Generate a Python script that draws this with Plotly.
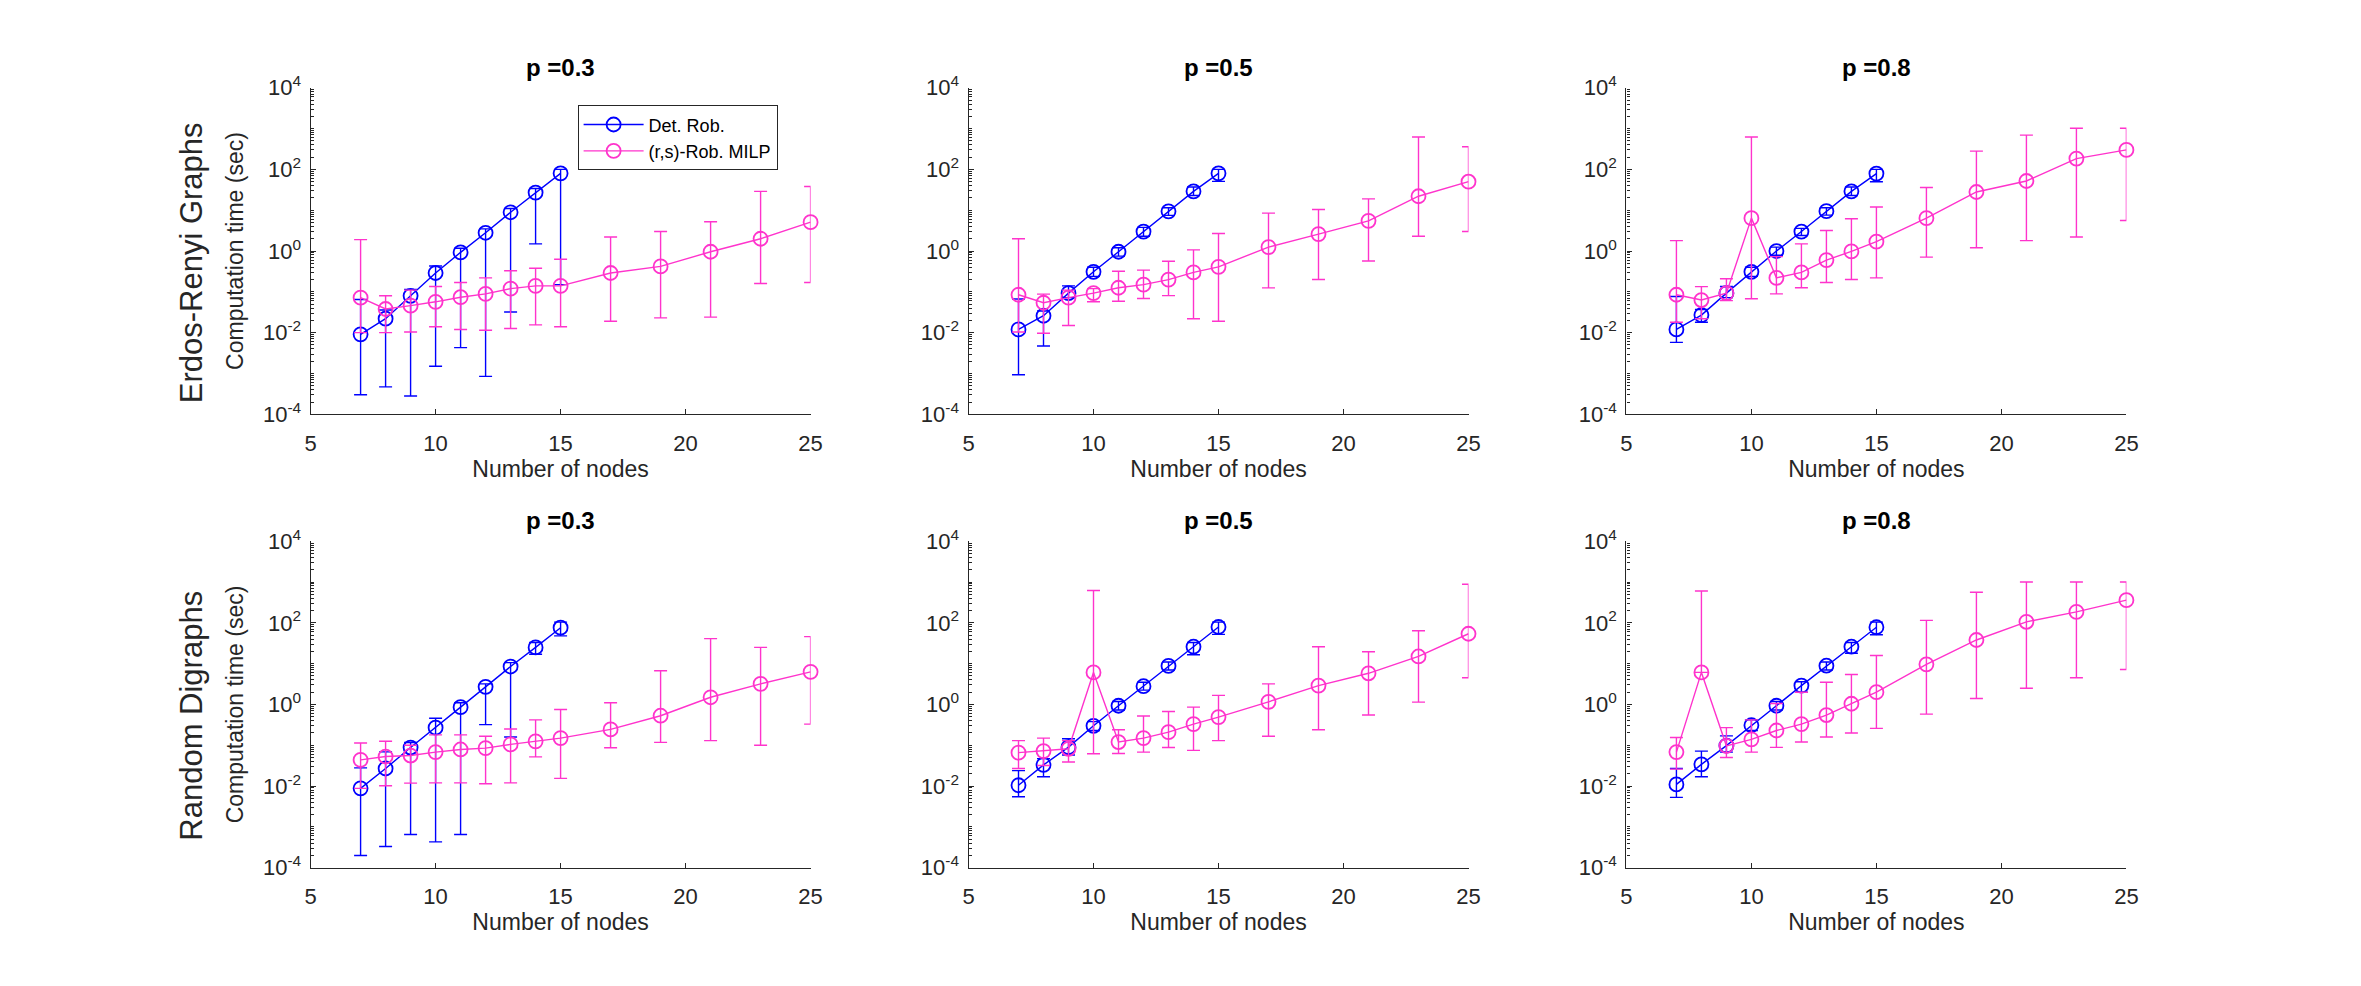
import plotly.graph_objects as go

# ---------------- data ----------------
nodes_det = [7, 8, 9, 10, 11, 12, 13, 14, 15]
nodes_milp = [7, 8, 9, 10, 11, 12, 13, 14, 15, 17, 19, 21, 23, 25]

series_names = ["Det. Rob.", "(r,s)-Rob. MILP"]
panel_titles = ["p =0.3", "p =0.5", "p =0.8", "p =0.3", "p =0.5", "p =0.8"]
row_labels = ["Erdos-Renyi Graphs", "Random Digraphs"]
x_ticks = [5, 10, 15, 20, 25]
y_tickvals = [1e-4, 1e-2, 1e0, 1e2, 1e4]
y_ticktext = ["10<sup>-4</sup>", "10<sup>-2</sup>", "10<sup>0</sup>", "10<sup>2</sup>", "10<sup>4</sup>"]

# Erdos-Renyi, p = 0.3
er03_det_mean = [0.0091, 0.022, 0.080, 0.29, 0.93, 2.8, 8.9, 27, 80]
er03_det_lo = [0.0003, 0.00047, 0.00028, 0.0015, 0.0043, 0.00085, 0.032, 1.5, 0.15]
er03_det_hi = [0.065, 0.036, 0.115, 0.43, 1.17, 3.5, 11, 34, 100]
er03_milp_mean = [0.072, 0.038, 0.046, 0.057, 0.074, 0.089, 0.12, 0.14, 0.14, 0.29, 0.42, 0.96, 2.0, 5.1]
er03_milp_lo = [0.01, 0.01, 0.0104, 0.014, 0.012, 0.0115, 0.0127, 0.0155, 0.014, 0.019, 0.023, 0.024, 0.16, 0.17]
er03_milp_hi = [1.9, 0.08, 0.11, 0.135, 0.17, 0.22, 0.33, 0.38, 0.63, 2.2, 3.0, 5.2, 29, 38]

# Erdos-Renyi, p = 0.5
er05_det_mean = [0.012, 0.026, 0.093, 0.31, 0.96, 3.0, 9.4, 29, 80]
er05_det_lo = [0.00093, 0.0047, 0.072, 0.24, 0.75, 2.3, 7.5, 23, 51]
er05_det_hi = [0.067, 0.034, 0.14, 0.40, 1.2, 3.8, 11.5, 37, 100]
er05_milp_mean = [0.085, 0.054, 0.072, 0.093, 0.126, 0.15, 0.20, 0.30, 0.41, 1.25, 2.6, 5.5, 22, 50]
er05_milp_lo = [0.0104, 0.0097, 0.015, 0.057, 0.059, 0.069, 0.081, 0.022, 0.019, 0.125, 0.2, 0.57, 2.3, 3.0]
er05_milp_hi = [2.0, 0.088, 0.11, 0.12, 0.32, 0.34, 0.56, 1.07, 2.7, 8.5, 10.4, 19, 620, 360]

# Erdos-Renyi, p = 0.8
er08_det_mean = [0.012, 0.027, 0.093, 0.31, 1.0, 3.0, 9.5, 29, 79]
er08_det_lo = [0.0058, 0.018, 0.072, 0.24, 0.79, 2.4, 7.6, 23, 50]
er08_det_hi = [0.077, 0.037, 0.135, 0.40, 1.25, 3.6, 11.5, 37, 100]
er08_milp_mean = [0.085, 0.063, 0.093, 6.4, 0.22, 0.30, 0.60, 0.98, 1.7, 6.4, 28, 52, 184, 300]
er08_milp_lo = [0.018, 0.022, 0.061, 0.068, 0.089, 0.126, 0.17, 0.20, 0.22, 0.71, 1.2, 1.8, 2.2, 5.6]
er08_milp_hi = [1.8, 0.134, 0.21, 620, 0.73, 1.5, 3.2, 6.2, 12, 36, 280, 690, 1020, 1020]

# Random digraphs, p = 0.3
rd03_det_mean = [0.0088, 0.027, 0.088, 0.27, 0.86, 2.7, 8.5, 25, 76]
rd03_det_lo = [0.0002, 0.00033, 0.00065, 0.00043, 0.00065, 0.32, 0.16, 17, 48]
rd03_det_hi = [0.028, 0.069, 0.117, 0.46, 1.1, 3.2, 10.6, 33, 104]
rd03_milp_mean = [0.044, 0.053, 0.056, 0.068, 0.079, 0.085, 0.105, 0.125, 0.15, 0.245, 0.53, 1.5, 3.2, 6.3]
rd03_milp_lo = [0.0088, 0.0102, 0.0118, 0.012, 0.012, 0.0114, 0.012, 0.052, 0.0155, 0.087, 0.118, 0.13, 0.1, 0.33]
rd03_milp_hi = [0.114, 0.125, 0.1, 0.18, 0.18, 0.166, 0.25, 0.42, 0.75, 1.1, 6.7, 41, 25, 46]

# Random digraphs, p = 0.5
rd05_det_mean = [0.0105, 0.033, 0.09, 0.30, 0.93, 2.8, 8.8, 26, 79]
rd05_det_lo = [0.0055, 0.017, 0.058, 0.23, 0.73, 2.25, 7.0, 16.5, 52]
rd05_det_hi = [0.024, 0.047, 0.145, 0.38, 1.18, 3.5, 11, 33, 104]
rd05_milp_mean = [0.066, 0.072, 0.082, 6.1, 0.12, 0.15, 0.21, 0.33, 0.49, 1.16, 2.9, 5.8, 15, 54]
rd05_milp_lo = [0.027, 0.032, 0.039, 0.062, 0.063, 0.068, 0.088, 0.075, 0.13, 0.167, 0.24, 0.55, 1.14, 4.5]
rd05_milp_hi = [0.13, 0.15, 0.13, 620, 0.24, 0.52, 0.67, 0.86, 1.67, 3.2, 26, 19.6, 64, 880]

# Random digraphs, p = 0.8
rd08_det_mean = [0.011, 0.034, 0.098, 0.31, 0.93, 2.9, 8.9, 26, 78]
rd08_det_lo = [0.0053, 0.017, 0.068, 0.23, 0.73, 2.0, 7.0, 18, 51]
rd08_det_hi = [0.027, 0.072, 0.17, 0.42, 1.18, 3.6, 11, 33, 104]
rd08_milp_mean = [0.068, 6.1, 0.097, 0.14, 0.23, 0.33, 0.55, 1.04, 2.0, 9.6, 38, 106, 185, 360]
rd08_milp_lo = [0.026, 6.1, 0.05, 0.068, 0.089, 0.12, 0.16, 0.2, 0.26, 0.58, 1.4, 2.5, 4.5, 7.2]
rd08_milp_hi = [0.155, 600, 0.27, 0.42, 1.06, 2.0, 3.5, 5.4, 15.8, 115, 560, 1000, 1000, 1000]

panels = [
    (er03_det_mean, er03_det_lo, er03_det_hi, er03_milp_mean, er03_milp_lo, er03_milp_hi),
    (er05_det_mean, er05_det_lo, er05_det_hi, er05_milp_mean, er05_milp_lo, er05_milp_hi),
    (er08_det_mean, er08_det_lo, er08_det_hi, er08_milp_mean, er08_milp_lo, er08_milp_hi),
    (rd03_det_mean, rd03_det_lo, rd03_det_hi, rd03_milp_mean, rd03_milp_lo, rd03_milp_hi),
    (rd05_det_mean, rd05_det_lo, rd05_det_hi, rd05_milp_mean, rd05_milp_lo, rd05_milp_hi),
    (rd08_det_mean, rd08_det_lo, rd08_det_hi, rd08_milp_mean, rd08_milp_lo, rd08_milp_hi),
]

# ---------------- style ----------------
W, H = 2361, 986
BLUE = "#0000ff"
PINK = "#ff33cc"
AXC = "#262626"
FONT = "Liberation Sans, Arial, Helvetica, sans-serif"
col_domains = [(0.13, 0.3434), (0.4108, 0.6242), (0.6916, 0.905)]
row_domains = [(0.5838, 0.925), (0.11, 0.4512)]

fig = go.Figure()


def add_series(x, mean, lo, hi, color, name, n, show):
    fig.add_trace(go.Scatter(
        x=x, y=mean, name=name, mode="lines+markers", cliponaxis=False,
        line=dict(color=color, width=1.4),
        marker=dict(symbol="circle-open", size=14, color=color, line=dict(width=1.8, color=color)),
        error_y=dict(type="data", symmetric=False,
                     array=[h - m for h, m in zip(hi, mean)],
                     arrayminus=[m - l for m, l in zip(mean, lo)],
                     color=color, thickness=1.4, width=6.5),
        xaxis="x" + str(n), yaxis="y" + str(n),
        showlegend=show, legendgroup=name,
    ))


annotations = []
for i, (dm, dl, dh, mm, ml, mh) in enumerate(panels):
    n = i + 1
    r, c = divmod(i, 3)
    add_series(nodes_det, dm, dl, dh, BLUE, series_names[0], n, i == 0)
    add_series(nodes_milp, mm, ml, mh, PINK, series_names[1], n, i == 0)

    xd, yd = col_domains[c], row_domains[r]
    xa = "xaxis" if n == 1 else "xaxis" + str(n)
    ya = "yaxis" if n == 1 else "yaxis" + str(n)
    fig.layout[xa] = dict(
        domain=list(xd), anchor="y" + str(n), range=[5, 25],
        tickmode="array", tickvals=x_ticks, ticks="inside", ticklen=5,
        tickcolor=AXC, tickwidth=1, showline=True, linecolor=AXC, linewidth=1.2,
        showgrid=False, zeroline=False, mirror=False,
        tickfont=dict(family=FONT, size=22, color=AXC), ticklabelstandoff=9,
        title=dict(text="Number of nodes", font=dict(family=FONT, size=23, color=AXC), standoff=0),
    )
    fig.layout[ya] = dict(
        domain=list(yd), anchor="x" + str(n), type="log", range=[-4, 4],
        tickmode="array", tickvals=y_tickvals, ticktext=y_ticktext,
        ticks="inside", ticklen=5, tickcolor=AXC, tickwidth=1,
        minor=dict(ticks="inside", ticklen=3, tickcolor=AXC, tickwidth=1, dtick="D1", showgrid=False),
        showline=True, linecolor=AXC, linewidth=1.2, showgrid=False, zeroline=False, mirror=False,
        tickfont=dict(family=FONT, size=22, color=AXC), ticklabelstandoff=4,
        title=dict(text="Computation time (sec)" if c == 0 else "",
                   font=dict(family=FONT, size=23, color=AXC), standoff=12),
    )
    annotations.append(dict(
        text="<b>" + panel_titles[i] + "</b>", x=(xd[0] + xd[1]) / 2, y=yd[1],
        xref="paper", yref="paper", xanchor="center", yanchor="bottom", yshift=5,
        showarrow=False, font=dict(family=FONT, size=24, color="#000000"),
    ))

for r in range(2):
    yd = row_domains[r]
    annotations.append(dict(
        text=row_labels[r], x=187 / W, y=(yd[0] + yd[1]) / 2 - 12 / H,
        xref="paper", yref="paper", xanchor="center", yanchor="middle",
        textangle=-90, showarrow=False, font=dict(family=FONT, size=31, color=AXC),
    ))

fig.update_layout(
    width=W, height=H, margin=dict(l=0, r=0, t=0, b=0),
    paper_bgcolor="white", plot_bgcolor="white",
    annotations=annotations,
    legend=dict(x=576 / W, y=1 - 92 / H, xanchor="left", yanchor="top",
                bgcolor="white", bordercolor="#262626", borderwidth=1,
                font=dict(family=FONT, size=18, color="#000000"),
                itemwidth=60, tracegroupgap=0),
    font=dict(family=FONT),
)

fig.write_html("out.html")
